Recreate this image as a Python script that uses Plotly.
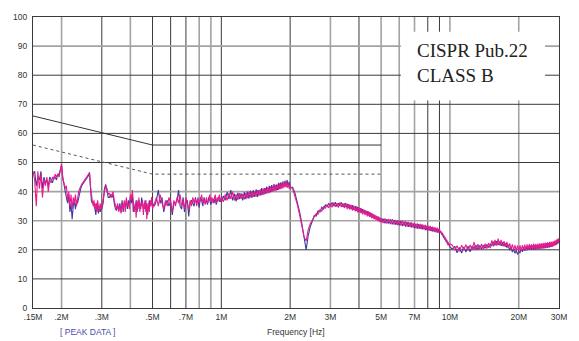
import math
import plotly.graph_objects as go

# ---------------- data ----------------
freq_A = [0.150, 0.1525, 0.155, 0.1575, 0.160, 0.1625, 0.165, 0.1675, 0.170, 0.1725,
          0.175, 0.1775, 0.180, 0.1825, 0.185, 0.1875, 0.190, 0.1925, 0.195, 0.1975,
          0.200, 0.2025, 0.205, 0.2075, 0.210, 0.2125, 0.215, 0.2175, 0.220, 0.2225,
          0.225, 0.2275, 0.230, 0.2325, 0.235, 0.2375, 0.240, 0.2425, 0.245, 0.2475,
          0.250, 0.2525, 0.255, 0.2575, 0.260, 0.2625, 0.265, 0.2675, 0.270, 0.2725,
          0.275, 0.2775, 0.280, 0.2825, 0.285, 0.2875, 0.290, 0.2925, 0.295, 0.2975,
          0.300]
mag_A = [47, 44, 35, 47, 41, 46, 38, 44, 42, 45,
         40, 44, 43, 45, 44, 46, 45, 46, 45, 47,
         49.5, 44, 43, 41, 42, 37, 40, 35, 39, 34,
         38, 36, 39, 35, 38, 40, 41, 42, 42.5, 43,
         43.5, 44, 44.5, 45, 45.5, 46, 46.5, 42, 38, 37,
         35, 37, 34, 36, 33, 37, 35, 33, 36, 34,
         35]
blue_A = [46, 47, 42, 45, 44, 47, 41, 45, 43, 44,
          42, 45, 44, 43, 45, 45, 44, 46, 46, 48,
          49, 45, 42, 40, 38, 36, 39, 33, 36, 30.5,
          35, 37, 34, 37, 36, 38, 39.5, 41, 42, 42.5,
          43, 43.5, 44, 44.5, 45, 45.5, 46.6, 41, 37, 36,
          36.5, 35, 34, 32, 36, 34, 32.5, 35, 33, 34,
          34]

freq_B = [0.304, 0.308, 0.312, 0.316, 0.320, 0.324, 0.328, 0.332, 0.336, 0.340,
          0.344, 0.348, 0.352, 0.356, 0.360, 0.364, 0.368, 0.372, 0.376, 0.380,
          0.384, 0.388, 0.392, 0.396, 0.400, 0.404, 0.408, 0.412, 0.416, 0.420,
          0.424, 0.428, 0.432, 0.436, 0.440, 0.444, 0.448, 0.452, 0.456, 0.460,
          0.464, 0.468, 0.472, 0.476, 0.480, 0.484, 0.488, 0.492, 0.496, 0.500]
mag_B = [37, 40, 42, 41, 39, 39.5, 38, 39, 40, 37,
         35, 34, 36, 33, 35, 32.5, 36, 34, 37, 33,
         38, 35, 36, 34, 39, 37, 40.5, 35, 33, 36,
         31, 37, 34, 38, 33, 36, 35, 37, 32, 36,
         34, 37, 30.5, 35, 36, 33, 37, 35, 38, 34]
blue_B = [36, 41, 42.5, 40, 38, 38, 39, 38, 39, 36,
          34, 33.5, 35, 34, 36, 33, 37, 33, 36, 35,
          37, 34, 37, 35, 38, 36, 39, 33, 35, 34,
          37, 33, 36, 37, 35, 34, 38, 36, 34, 35,
          37, 33, 36, 32, 34, 37, 35, 36, 38, 36]

freq_C = [0.51, 0.52, 0.53, 0.54, 0.55, 0.56, 0.57, 0.58, 0.59, 0.60,
          0.61, 0.62, 0.63, 0.64, 0.65, 0.66, 0.67, 0.68, 0.69, 0.70,
          0.71, 0.72, 0.73, 0.74, 0.75, 0.76, 0.77, 0.78, 0.79, 0.80,
          0.81, 0.82, 0.83, 0.84, 0.85, 0.86, 0.87, 0.88, 0.89, 0.90,
          0.91, 0.92, 0.93, 0.94, 0.95, 0.96, 0.97, 0.98, 0.99, 1.00]
mag_C = [36, 38, 35, 39, 36, 34, 37, 35, 38, 36,
         33, 37, 35, 38, 36, 39, 35, 37, 34, 38,
         36, 33.5, 37, 35, 38, 36, 37.5, 35, 38, 36,
         37, 39, 36, 37.5, 35.5, 38, 36, 37, 39, 36.5,
         38, 36, 37.5, 39, 36, 38, 37, 39, 36.5, 38]
blue_C = [35, 37, 40.5, 36, 38, 33, 36, 37, 35, 37,
          32, 36, 36, 37, 40.5, 35, 34, 38, 33, 36,
          37, 31.5, 36, 37, 36, 35, 38, 36, 37, 34.5,
          38, 37, 35, 38, 36, 37, 35.5, 38, 37, 35.5,
          37, 37.5, 36, 38, 35.5, 37, 38, 36.5, 37.5, 36.5]

freq_D = [1.02, 1.04, 1.06, 1.08, 1.10, 1.12, 1.14, 1.16, 1.18, 1.20,
          1.22, 1.24, 1.26, 1.28, 1.30, 1.32, 1.34, 1.36, 1.38, 1.40,
          1.42, 1.44, 1.46, 1.48, 1.50, 1.52, 1.54, 1.56, 1.58, 1.60,
          1.62, 1.64, 1.66, 1.68, 1.70, 1.72, 1.74, 1.76, 1.78, 1.80,
          1.82, 1.84, 1.86, 1.88, 1.90, 1.92, 1.94, 1.96, 1.98, 2.00]
mag_D = [36.5, 39, 37, 39.5, 37.5, 40, 37, 39, 37.2, 39.5,
         37.5, 39.2, 37.3, 39.6, 37.8, 40, 38, 40.2, 38.2, 40,
         38.3, 40.5, 38.5, 40.8, 38.8, 41, 39, 41.2, 39.3, 41.4,
         39.5, 41.8, 39.8, 42, 40.1, 42.3, 40.3, 42.4, 40.6, 42.8,
         40.8, 43, 41.1, 43.3, 41.5, 43.4, 41.3, 43, 41, 41.8]
blue_D = [38.5, 37, 39.8, 37.4, 40.5, 37, 39.3, 36.6, 39.6, 37.4,
          39.4, 37, 39.8, 37.4, 40, 37.6, 40.3, 37.8, 40.5, 38.2,
          40.8, 38.2, 40.5, 38.7, 41.2, 38.9, 41.2, 39.3, 41.7, 39.5,
          42, 39.8, 42.2, 40.1, 42.6, 40.3, 42.4, 40.6, 43, 40.9,
          43.2, 41.2, 43.5, 41.5, 43.8, 41.8, 44, 41.6, 43.4, 41.2]

freq_E = [2.05, 2.10, 2.15, 2.20, 2.25, 2.30, 2.35, 2.40, 2.45, 2.50,
          2.55, 2.60, 2.65, 2.70, 2.75, 2.80, 2.85, 2.90, 2.95, 3.00,
          3.05, 3.10, 3.15, 3.20, 3.25, 3.30, 3.35, 3.40, 3.45, 3.50,
          3.55, 3.60, 3.65, 3.70, 3.75, 3.80, 3.85, 3.90, 3.95, 4.00,
          4.05, 4.10, 4.15, 4.20, 4.25, 4.30, 4.35, 4.40, 4.45, 4.50,
          4.55, 4.60, 4.65, 4.70, 4.75, 4.80, 4.85, 4.90, 4.95, 5.00]
mag_E = [41, 38.5, 35.5, 32, 28.5, 24.5, 23, 27, 29, 30.2,
         31.2, 32.5, 32.2, 33.8, 33.2, 34.8, 34.3, 35.6, 34.4, 35.8,
         34.6, 36.2, 34.8, 36, 34.5, 36.3, 34.7, 35.9, 34.3, 36.1,
         34, 35.7, 33.8, 35.4, 33.5, 35.2, 33.2, 34.9, 32.9, 34.6,
         32.6, 34.2, 32.2, 33.9, 31.9, 33.5, 31.5, 33.2, 31.2, 32.8,
         30.8, 32.4, 30.5, 32, 30.1, 31.6, 29.8, 31.3, 29.4, 30.9]
blue_E = [41.5, 39.5, 36.5, 33, 29, 24, 20, 25, 28, 29.8,
          31.8, 31.6, 33.4, 33, 34.6, 34, 35.4, 34.8, 36, 35,
          36.3, 35, 36.4, 34.9, 36, 35.1, 36.3, 34.8, 35.9, 34.7,
          35.8, 34.3, 35.5, 34, 35.3, 33.7, 35, 33.4, 34.7, 33.1,
          34.3, 32.8, 34, 32.5, 33.6, 32.1, 33.3, 31.8, 32.9, 31.4,
          32.5, 31, 32.1, 30.6, 31.7, 30.3, 31.4, 29.9, 31, 29.6]

freq_F = [5.1, 5.2, 5.3, 5.4, 5.5, 5.6, 5.7, 5.8, 5.9, 6.0,
          6.1, 6.2, 6.3, 6.4, 6.5, 6.6, 6.7, 6.8, 6.9, 7.0,
          7.1, 7.2, 7.3, 7.4, 7.5, 7.6, 7.7, 7.8, 7.9, 8.0,
          8.1, 8.2, 8.3, 8.4, 8.5, 8.6, 8.7, 8.8, 8.9, 9.0,
          9.1, 9.2, 9.3, 9.4, 9.5, 9.6, 9.7, 9.8, 9.9, 10.0]
mag_F = [29.2, 30.8, 29, 30.6, 28.8, 30.5, 28.7, 30.3, 28.5, 30.1,
         28.3, 30, 28.2, 29.8, 28, 29.6, 27.8, 29.4, 27.6, 29.2,
         27.4, 29.1, 27.3, 28.9, 27.1, 28.7, 27, 28.6, 26.8, 28.4,
         26.6, 28.2, 26.4, 28, 26.3, 27.8, 26.1, 27.6, 25.9, 27.3,
         25.8, 26.2, 24.6, 25, 23.4, 23.9, 22.3, 22.8, 21.4, 22]
blue_F = [30.7, 29.1, 30.5, 29, 30.4, 28.8, 30.2, 28.6, 30, 28.4,
          29.9, 28.2, 29.7, 28, 29.5, 27.9, 29.3, 27.7, 29.1, 27.5,
          28.9, 27.3, 28.8, 27.2, 28.6, 27, 28.4, 26.8, 28.2, 26.7,
          28, 26.5, 27.8, 26.3, 27.6, 26.1, 27.4, 25.9, 27.2, 25.8,
          26.4, 25.4, 25.6, 24.2, 24.4, 23, 23.2, 21.8, 22, 21]

freq_G = [10.25, 10.5, 10.75, 11.0, 11.25, 11.5, 11.75, 12.0, 12.25, 12.5,
          12.75, 13.0, 13.25, 13.5, 13.75, 14.0, 14.25, 14.5, 14.75, 15.0,
          15.25, 15.5, 15.75, 16.0, 16.25, 16.5, 16.75, 17.0, 17.25, 17.5,
          17.75, 18.0, 18.25, 18.5, 18.75, 19.0, 19.25, 19.5, 19.75, 20.0,
          20.25, 20.5, 20.75, 21.0, 21.25, 21.5, 21.75, 22.0, 22.25, 22.5,
          22.75, 23.0, 23.25, 23.5, 23.75, 24.0, 24.25, 24.5, 24.75, 25.0,
          25.25, 25.5, 25.75, 26.0, 26.25, 26.5, 26.75, 27.0, 27.25, 27.5,
          27.75, 28.0, 28.25, 28.5, 28.75, 29.0, 29.25, 29.5, 29.75, 30.0]
mag_G = [21.6, 19.8, 21.4, 19.5, 21.6, 19.8, 21.8, 19.7, 21.7, 19.9,
         22.6, 19.9, 21.9, 20.1, 22, 20.2, 22.1, 20.4, 22.3, 20.6,
         23.2, 21.2, 23.4, 21.4, 23.8, 21.5, 23.4, 21.3, 23, 21,
         22.7, 20.6, 22.2, 20.2, 21.9, 19.9, 21.6, 19.6, 21.4, 19.6,
         21.5, 19.7, 21.6, 19.8, 21.8, 19.9, 21.9, 20, 22, 20.1,
         21.9, 20, 22.1, 20.2, 22, 20.1, 22.1, 20.3, 22.2, 20.4,
         22.3, 20.5, 22.4, 20.6, 22.5, 20.7, 22.6, 20.8, 22.7, 20.9,
         22.8, 21, 22.9, 21.3, 23.2, 21.6, 23.5, 21.9, 23.9, 22.5]
blue_G = [20.2, 21.2, 19, 20.8, 18.9, 21, 19.2, 21.2, 19.3, 21.3,
          20.4, 21.6, 20.2, 21.5, 20.3, 21.6, 20.5, 21.8, 20.8, 22,
          21.4, 22.8, 21.5, 23, 21.6, 22.9, 21.4, 22.6, 21.2, 22.3,
          20.8, 21.8, 19.8, 20.9, 19.2, 20.3, 18.8, 19.8, 18.4, 19.4,
          19, 20.4, 19.3, 20.9, 19.6, 21.1, 19.8, 21.3, 20, 21.4,
          20.1, 21.5, 20, 21.6, 20.1, 21.7, 20.2, 21.8, 20.3, 21.9,
          20.4, 22, 20.5, 22.1, 20.6, 22.2, 20.7, 22.3, 20.8, 22.4,
          21, 22.5, 21.2, 22.8, 21.5, 23.1, 21.8, 23.5, 22.2, 23.3]

freq_mhz = freq_A + freq_B + freq_C + freq_D + freq_E + freq_F + freq_G
magenta_db = mag_A + mag_B + mag_C + mag_D + mag_E + mag_F + mag_G
blue_db = blue_A + blue_B + blue_C + blue_D + blue_E + blue_F + blue_G

qp_limit_freq = [0.15, 0.5, 5.0]
qp_limit_db = [66, 56, 56]
av_limit_freq = [0.15, 0.5, 5.0]
av_limit_db = [56, 46, 46]

x_tick_vals = [0.15, 0.2, 0.3, 0.5, 0.7, 1, 2, 3, 5, 7, 10, 20, 30]
x_tick_text = [".15M", ".2M", ".3M", ".5M", ".7M", "1M", "2M", "3M", "5M", "7M", "10M", "20M", "30M"]
y_tick_vals = [0, 10, 20, 30, 40, 50, 60, 70, 80, 90, 100]

x_grid_dark = [0.3, 0.5, 0.6, 0.7, 1, 2, 4, 8, 9]
x_grid_light = [0.2, 0.4, 0.8, 0.9, 3, 5, 6, 7, 10, 20]
y_grid_dark = [10, 20, 50, 60, 70, 80]
y_grid_light = [30, 40, 90]

# ---------------- styles ----------------
DARK = "#3a3a3a"
LIGHT = "#a3a3a3"
BLUE = "#3c3c9e"
MAGENTA = "#ec1a8c"
TICKFONT = dict(family="Liberation Sans, Arial, sans-serif", size=8.5, color="#333333")

fig = go.Figure()

fig.add_trace(go.Scatter(x=qp_limit_freq, y=qp_limit_db, mode="lines",
                         line=dict(color="#333333", width=1), hoverinfo="skip"))
fig.add_trace(go.Scatter(x=av_limit_freq, y=av_limit_db, mode="lines",
                         line=dict(color="#555555", width=1, dash="3px,3px"), hoverinfo="skip"))
fig.add_trace(go.Scatter(x=freq_mhz, y=blue_db, mode="lines",
                         line=dict(color=BLUE, width=1.1)))
fig.add_trace(go.Scatter(x=freq_mhz, y=magenta_db, mode="lines",
                         line=dict(color=MAGENTA, width=1.1)))

shapes = []
for v in x_grid_light:
    shapes.append(dict(type="line", xref="x", yref="paper", x0=v, x1=v, y0=0, y1=1,
                       line=dict(color=LIGHT, width=1.6), layer="below"))
for v in x_grid_dark:
    shapes.append(dict(type="line", xref="x", yref="paper", x0=v, x1=v, y0=0, y1=1,
                       line=dict(color=DARK, width=1), layer="below"))
for v in y_grid_light:
    shapes.append(dict(type="line", xref="paper", yref="y", x0=0, x1=1, y0=v, y1=v,
                       line=dict(color=LIGHT, width=1.6), layer="below"))
for v in y_grid_dark:
    shapes.append(dict(type="line", xref="paper", yref="y", x0=0, x1=1, y0=v, y1=v,
                       line=dict(color=DARK, width=1), layer="below"))
# white label box that interrupts the grid
shapes.append(dict(type="rect", xref="paper", yref="paper", x0=0.6994, x1=0.9735,
                   y0=0.7128, y1=0.9493, fillcolor="white", line=dict(width=0), layer="below"))

fig.update_layout(
    width=579, height=341,
    margin=dict(l=33, r=17, t=12, b=33),
    paper_bgcolor="white", plot_bgcolor="white",
    showlegend=False,
    shapes=shapes,
    xaxis=dict(type="log", range=[math.log10(0.15), math.log10(30)],
               showgrid=False, zeroline=False, showline=True, mirror=True,
               linecolor=DARK, linewidth=1, ticks="", ticklabelstandoff=1,
               tickmode="array", tickvals=x_tick_vals, ticktext=x_tick_text,
               tickfont=TICKFONT),
    yaxis=dict(range=[0, 100], showgrid=False, zeroline=False, showline=True, mirror=True,
               linecolor=DARK, linewidth=1, ticks="", ticklabelstandoff=3,
               tickmode="array", tickvals=y_tick_vals, tickfont=TICKFONT),
    annotations=[
        dict(text="CISPR Pub.22<br>CLASS B", xref="paper", yref="paper",
             x=0.726, y=0.843, xanchor="left", yanchor="middle", align="left",
             showarrow=False,
             font=dict(family="Liberation Serif, Times New Roman, serif", size=19, color="#222222")),
        dict(text="Frequency [Hz]", xref="paper", yref="paper", x=0.5, y=-0.081,
             xanchor="center", yanchor="middle", showarrow=False,
             font=dict(family="Liberation Sans, Arial, sans-serif", size=8.5, color="#333333")),
        dict(text="[ PEAK DATA ]", xref="paper", yref="paper", x=0.103, y=-0.081,
             xanchor="center", yanchor="middle", showarrow=False,
             font=dict(family="Liberation Sans, Arial, sans-serif", size=8.5, color="#4a4aa8")),
    ],
)

fig.write_html("out.html", config={"displayModeBar": False},
               post_script="document.body.style.margin='0';document.body.style.overflow='hidden';")
